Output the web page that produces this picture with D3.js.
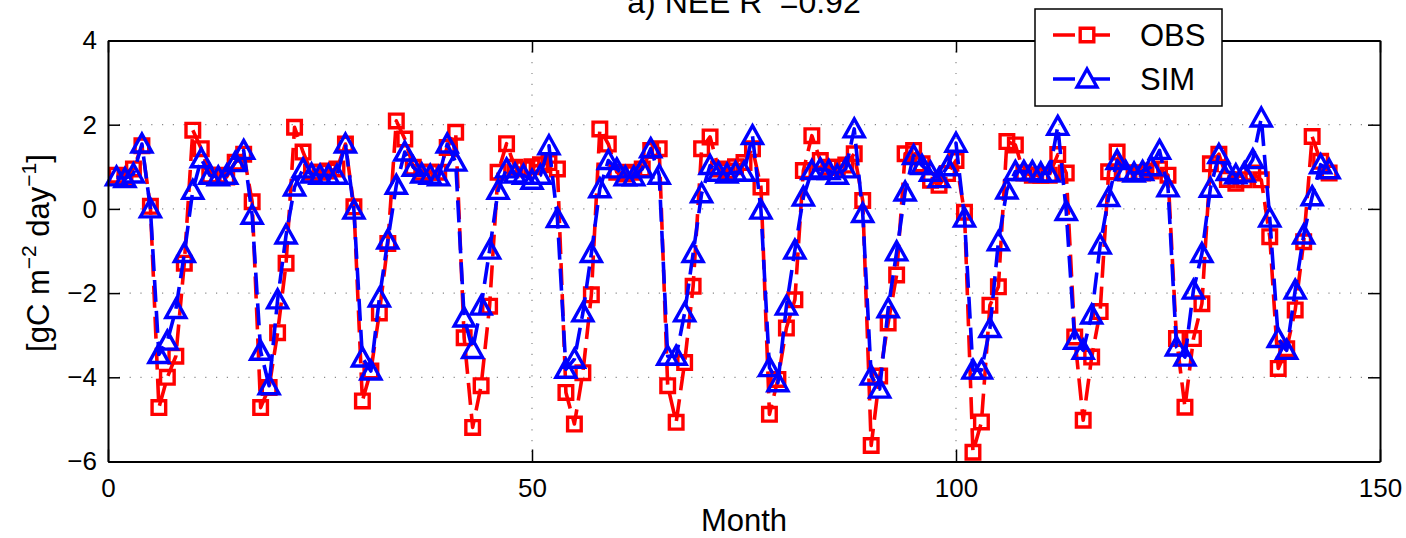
<!DOCTYPE html>
<html>
<head>
<meta charset="utf-8">
<script src="https://cdn.jsdelivr.net/npm/d3@7/dist/d3.min.js"></script>
<style>
  html, body { margin: 0; padding: 0; background: #fff; }
  svg text { font-family: "Liberation Sans", Arial, Helvetica, sans-serif; }
</style>
</head>
<body>
<svg id="chart" width="1406" height="538"></svg>
<script>
// ---------- data ----------
const obs = [
  0.80, 0.75, 0.95, 1.50, 0.06, -4.72, -4.00, -3.50, -1.29, 1.87, 1.43, 0.80,
  0.80, 0.76, 1.11, 1.30, 0.17, -4.72, -4.24, -2.94, -1.29, 1.94, 1.35, 0.87,
  0.87, 0.90, 0.95, 1.54, 0.05, -4.56, -3.85, -2.47, -0.82, 2.09, 1.66, 0.99,
  0.87, 0.87, 0.87, 1.46, 1.82, -3.06, -5.19, -4.20, -2.31, 0.87, 1.55, 0.99,
  0.95, 1.00, 1.05, 1.10, 0.95, -4.36, -5.11, -3.89, -2.04, 1.90, 1.54, 0.87,
  0.83, 0.87, 0.95, 1.39, 1.43, -4.20, -5.07, -3.65, -1.84, 1.43, 1.71, 0.95,
  0.90, 1.00, 1.10, 1.43, 0.52, -4.88, -4.05, -2.83, -2.16, 0.91, 1.74, 1.15,
  0.99, 0.99, 1.04, 1.31, 0.20, -5.62, -3.97, -2.71, -1.57, 1.31, 1.39, 1.07,
  0.68, 0.56, 0.84, 1.15, -0.08, -5.78, -5.06, -2.29, -1.85, 1.60, 1.52, 0.85,
  0.80, 0.80, 0.80, 1.29, 0.85, -3.04, -5.02, -3.52, -2.44, 0.88, 1.35, 0.85,
  0.85, 0.85, 0.90, 0.95, 0.80, -3.08, -4.71, -3.08, -2.25, 1.07, 1.30, 0.70,
  0.61, 0.69, 0.85, 0.69, -0.66, -3.79, -3.32, -2.40, -0.78, 1.72, 1.13, 0.85
];
const sim = [
  0.76, 0.72, 0.83, 1.54, 0.00, -3.46, -3.14, -2.39, -1.06, 0.44, 1.19, 0.80,
  0.76, 0.80, 1.10, 1.39, -0.15, -3.38, -4.20, -2.16, -0.62, 0.52, 0.95, 0.83,
  0.80, 0.80, 0.80, 1.54, -0.03, -3.54, -3.85, -2.12, -0.74, 0.56, 1.35, 0.99,
  0.83, 0.80, 0.76, 1.54, 1.11, -2.59, -3.34, -2.31, -0.98, 0.44, 0.95, 0.83,
  0.80, 0.68, 0.80, 1.50, -0.23, -3.81, -3.57, -2.47, -1.06, 0.48, 1.15, 0.95,
  0.76, 0.76, 0.95, 1.43, 0.80, -3.50, -3.50, -2.47, -1.06, 0.36, 1.03, 0.87,
  0.83, 0.87, 0.87, 1.74, -0.03, -3.77, -4.13, -2.31, -0.98, 0.28, 0.91, 0.95,
  0.91, 0.80, 0.95, 1.90, -0.11, -3.97, -4.28, -2.37, -1.02, 0.40, 1.27, 1.03,
  0.87, 0.72, 1.00, 1.56, -0.22, -3.83, -3.83, -2.84, -0.78, 0.45, 0.89, 0.89,
  0.89, 0.85, 0.85, 1.96, -0.06, -3.12, -3.36, -2.52, -0.86, 0.27, 1.15, 0.89,
  0.85, 0.89, 1.00, 1.39, 0.50, -3.28, -3.52, -1.93, -1.06, 0.49, 1.29, 0.89,
  0.81, 0.85, 1.17, 2.16, -0.22, -3.08, -3.36, -1.93, -0.62, 0.29, 1.05, 0.93
];
const xTicks = [0, 50, 100, 150];
const yTicks = [-6, -4, -2, 0, 2, 4];
const seriesNames = ["OBS", "SIM"];
const seriesColors = ["#ff0000", "#0000ff"];

// ---------- layout ----------
const svg = d3.select("#chart");
const L = 108, R = 1380, T = 40.5, B = 461.5;
const x = d3.scaleLinear().domain([0, 150]).range([L, R]);
const y = d3.scaleLinear().domain([-6, 4]).range([B, T]);

svg.append("rect").attr("width", 1406).attr("height", 538).attr("fill", "#fff");

// grid (dotted)
const grid = svg.append("g");
grid.selectAll("line.gx").data(xTicks.filter(d => d > 0 && d < 150)).join("line")
  .attr("x1", d => x(d)).attr("x2", d => x(d)).attr("y1", T).attr("y2", B)
  .attr("stroke", "#8a8a8a").attr("stroke-width", 1.2).attr("stroke-dasharray", "1.2,9.6");
grid.selectAll("line.gy").data(yTicks.filter(d => d > -6 && d < 4)).join("line")
  .attr("y1", d => y(d)).attr("y2", d => y(d)).attr("x1", L).attr("x2", R)
  .attr("stroke", "#8a8a8a").attr("stroke-width", 1.2).attr("stroke-dasharray", "1.2,9.6");

// series
const months = obs.map((_, i) => i + 1);
const lineGen = vals => d3.line().x((d, i) => x(months[i])).y(d => y(d))(vals);

const sqPath = "M-6.8,-6.8H6.8V6.8H-6.8Z";
const triPath = "M0,-10L10,8L-10,8Z";

function drawSeries(vals, color, path) {
  const g = svg.append("g");
  g.append("path").attr("d", lineGen(vals)).attr("fill", "none")
    .attr("stroke", color).attr("stroke-width", 3.6)
    .attr("stroke-dasharray", "22,9").attr("stroke-linejoin", "round");
  g.selectAll("path.m").data(vals).join("path")
    .attr("class", "m")
    .attr("transform", (d, i) => `translate(${x(months[i])},${y(d)})`)
    .attr("d", path).attr("fill", "none").attr("stroke", color).attr("stroke-width", 3.4);
}
drawSeries(obs, seriesColors[0], sqPath);
drawSeries(sim, seriesColors[1], triPath);

// axes (inward ticks on all 4 sides)
function styleAxis(g, showText) {
  g.select(".domain").attr("stroke", "#000").attr("stroke-width", 2);
  g.selectAll(".tick line").attr("stroke", "#000").attr("stroke-width", 1.5);
  g.selectAll(".tick text").attr("font-size", 26).attr("fill", "#000")
    .attr("font-family", "Liberation Sans, Arial, sans-serif");
  if (!showText) g.selectAll(".tick text").remove();
}
const fmt = d => d < 0 ? "\u2212" + Math.abs(d) : String(d);
svg.append("g").attr("transform", `translate(0,${B})`)
  .call(d3.axisBottom(x).tickValues(xTicks).tickSizeInner(-12).tickSizeOuter(0).tickPadding(17).tickFormat(fmt))
  .call(g => styleAxis(g, true));
svg.append("g").attr("transform", `translate(0,${T})`)
  .call(d3.axisTop(x).tickValues(xTicks).tickSizeInner(-12).tickSizeOuter(0))
  .call(g => styleAxis(g, false));
svg.append("g").attr("transform", `translate(${L},0)`)
  .call(d3.axisLeft(y).tickValues(yTicks).tickSizeInner(-12).tickSizeOuter(0).tickPadding(11).tickFormat(fmt))
  .call(g => styleAxis(g, true));
svg.append("g").attr("transform", `translate(${R},0)`)
  .call(d3.axisRight(y).tickValues(yTicks).tickSizeInner(-12).tickSizeOuter(0))
  .call(g => styleAxis(g, false));

// x label
svg.append("text").attr("x", (L + R) / 2).attr("y", 531).attr("text-anchor", "middle")
  .attr("font-size", 31).text("Month");

// y label
const yl = svg.append("text").attr("transform", "translate(49,253) rotate(-90)")
  .attr("text-anchor", "middle").attr("font-size", 31);
yl.append("tspan").text("[gC m");
yl.append("tspan").attr("font-size", 21).attr("dy", -13).text("\u22122");
yl.append("tspan").attr("dy", 13).text(" day");
yl.append("tspan").attr("font-size", 21).attr("dy", -13).text("\u22121");
yl.append("tspan").attr("dy", 13).text("]");

// title (top partially clipped as in the original)
const tt = svg.append("text").attr("x", (L + R) / 2).attr("y", 13).attr("text-anchor", "middle")
  .attr("font-size", 32);
tt.append("tspan").text("a) NEE R");
tt.append("tspan").attr("font-size", 22).attr("dy", -17).attr("dx", 2).text("2");
tt.append("tspan").attr("dy", 17).attr("dx", 3).text("=0.92");

// legend
const lg = svg.append("g");
lg.append("rect").attr("x", 1035).attr("y", 9).attr("width", 187).attr("height", 97)
  .attr("fill", "#fff").attr("stroke", "#000").attr("stroke-width", 1.5);
const legY = [35, 79];
seriesNames.forEach((name, i) => {
  lg.append("line").attr("x1", 1053).attr("x2", 1121).attr("y1", legY[i]).attr("y2", legY[i])
    .attr("stroke", seriesColors[i]).attr("stroke-width", 3.6).attr("stroke-dasharray", "22,13");
  lg.append("path").attr("transform", `translate(1087,${legY[i]})`)
    .attr("d", i === 0 ? sqPath : triPath).attr("fill", "#fff")
    .attr("stroke", seriesColors[i]).attr("stroke-width", 3.4);
  lg.append("text").attr("x", 1140).attr("y", legY[i] + 11).attr("font-size", 31).text(name);
});
</script>
</body>
</html>
